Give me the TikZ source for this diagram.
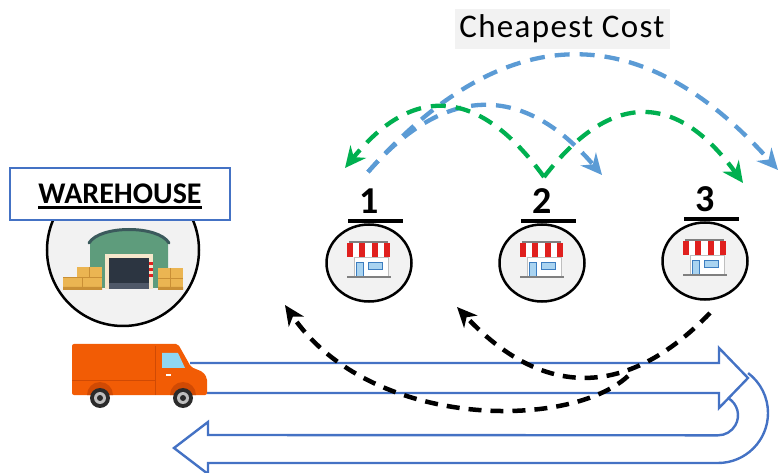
\documentclass[tikz,border=0pt]{standalone}
\usepackage{fontspec}
\setmainfont{Carlito}
\usetikzlibrary{arrows.meta,shapes.geometric}

\definecolor{arrowblue}{HTML}{4472C4}
\definecolor{costblue}{HTML}{5B9BD5}
\definecolor{costgreen}{HTML}{00B050}
\definecolor{panelgray}{HTML}{F2F2F2}
\definecolor{vanorange}{HTML}{F25C05}
\definecolor{vandark}{HTML}{D04A04}
\definecolor{vanglass}{HTML}{8FD6F2}
\definecolor{tyre}{HTML}{2B2B2B}
\definecolor{hub}{HTML}{BFBFBF}
\definecolor{domegreen}{HTML}{5E9C7C}
\definecolor{domedark}{HTML}{3B5A5C}
\definecolor{doorcream}{HTML}{F6E7CC}
\definecolor{doordark}{HTML}{2C3541}
\definecolor{doorgray}{HTML}{4F5868}
\definecolor{boxyellow}{HTML}{EBB552}
\definecolor{boxedge}{HTML}{C98F35}
\definecolor{awningred}{HTML}{E0201E}
\definecolor{doorblue}{HTML}{A9D3F0}
\definecolor{doorline}{HTML}{3C7DC0}

\tikzset{
  shopcircle/.style={ellipse, draw, line width=2.5pt, fill=panelgray,
    minimum width=85pt, minimum height=77pt},
  shopnum/.style={font=\fontsize{38}{38}\selectfont\bfseries, inner sep=0pt},
  numbar/.style={line width=4pt},
  blockarrow/.style={draw=arrowblue, line width=2.4pt},
  truckroute/.style={black, line width=4.5pt, dash pattern=on 13pt off 9pt,
    -{Stealth[length=20pt,width=18pt,inset=6pt]}},
  costroute/.style={line width=4.3pt, dash pattern=on 15pt off 10pt,
    -{Stealth[length=21pt,width=20pt,inset=7pt]}},
  pics/shop/.style={code={
    % awning
    \fill[white] (-22,-20) rectangle (21,-6);
    \foreach \k in {0,2,4,6}
      \fill[awningred] (-22+\k*6.14,-20) rectangle ++(6.14,14);
    \fill[gray] (-20,-22) rectangle (19,-20);
    % front
    \filldraw[fill=white, draw=gray!50, line width=0.5pt] (-15,-6) rectangle (19,14);
    \filldraw[fill=doorblue, draw=doorline, line width=0.8pt] (-13,-1) rectangle (-6,14);
    \filldraw[fill=doorblue, draw=doorline, line width=0.8pt] (-1,-1) rectangle (13,6);
    \draw[gray, line width=1.5pt] (-22,14) -- (22,14);
  }}
}

\begin{document}
\begin{tikzpicture}[x=1pt,y=-1pt]
\useasboundingbox (0,0) rectangle (780,473);

% outgoing and return block arrows
\draw[blockarrow] (190,363) -- (719,363) -- (719,348) -- (748,378) -- (719,408)
  -- (719,393) -- (207,393);
\draw[blockarrow] (728,398) arc[start angle=60, end angle=-90, radius=20pt]
  -- (208,435) -- (208,422) -- (174,448) -- (208,474) -- (208,463) -- (718,463)
  arc[start angle=-90, end angle=53, radius=50pt];

% van
\fill[vanorange, rounded corners=2pt] (72,344) -- (178,344) -- (191,367) -- (203,372)
  -- (207,378) -- (207,395) -- (72,395) -- cycle;
\draw[vandark, line width=0.8pt] (155,346) -- (155,395);
\draw[vandark, line width=0.8pt] (72,380) -- (155,380);
\fill[vanglass] (162,353) -- (178,353) -- (185,368) -- (162,368) -- cycle;
\fill[white] (166,374) rectangle (171,376);
\foreach \w in {100,183} {
  \fill[vandark] (\w-13,395) arc[start angle=180, end angle=0, radius=13pt] -- cycle;
  \fill[tyre] (\w,398) circle (10pt);
  \fill[hub] (\w,398) circle (6pt);
  \fill[tyre] (\w,398) circle (3pt);
}

% warehouse
\node[circle, draw, line width=2.5pt, fill=panelgray, minimum size=152pt] (whcircle) at (123,250) {};
\fill[domegreen] (90,288) -- (90,242) .. controls (100,226) and (158,226) .. (168,242) -- (168,288) -- cycle;
\draw[domedark, line width=3pt, line cap=round] (89,243) .. controls (100,225) and (158,225) .. (169,243);
\fill[doorcream] (105,254) rectangle (153,289);
\fill[doordark] (109,258) rectangle (149,283);
\fill[doorgray] (109,283) rectangle (149,289);
\foreach \s in {262,268,274}
  \fill[awningred] (149,\s) rectangle (153,\s+3);
\fill[boxyellow] (63,277) rectangle (102,289);
\fill[boxyellow] (77,267) rectangle (102,277);
\fill[boxyellow] (158,268) rectangle (183,289);
\draw[boxedge, line width=0.8pt] (82,277) -- (82,289) (63,277) -- (102,277) (89,267) -- (89,277)
  (158,278) -- (183,278) (170,268) -- (170,289);
\fill[boxedge] (63,287) rectangle (102,290) (158,287) rectangle (183,290);

\node[draw=arrowblue, line width=1.5pt, fill=white, minimum width=220pt, minimum height=52pt] (whbox) at (120,194) {};
\node[font=\fontsize{30}{36}\selectfont\bfseries, inner sep=0pt] (whtext) at (120,194) {WAREHOUSE};
\draw[line width=3pt] ([yshift=-4pt]whtext.base west) -- ([yshift=-4pt]whtext.base east);

% shops
\foreach \i/\x/\y in {1/369/263, 2/542/263, 3/705/261} {
  \node[shopcircle] (s\i) at (\x,\y) {};
  \pic at (s\i) {shop};
  \draw[numbar] (\x-21,\y-42) -- (\x+34,\y-42);
  \node[shopnum] (n\i) at (\x,\y-62) {\i};
}

% title
\node[fill=panelgray, minimum width=215pt, minimum height=40pt, inner sep=0pt,
  font=\fontsize{33}{40}\selectfont\addfontfeatures{LetterSpace=4}] (costtitle) at (562,29) {Cheapest Cost};

% route ends
\coordinate (r3) at (710,313);
\coordinate (rsplit) at (628,376);
\coordinate (r2) at (457,307);
\coordinate (r1) at (285,305);
\coordinate (c0) at (368,172);
\coordinate (c2) at (602,175);
\coordinate (c4) at (778,170);
\coordinate (g0) at (544,177);
\coordinate (g1) at (345,168);
\coordinate (g3) at (743,183);

% van routes
\draw[truckroute] (r3) .. controls (626,400) and (542,398) .. (r2);
\draw[truckroute] (rsplit) .. controls (570,430) and (370,430) .. (r1);

% cost arcs
\draw[costroute, costblue] (c0) .. controls (446,83) and (524,84) .. (c2);
\draw[costroute, costblue] (c0) .. controls (505,17) and (641,17) .. (c4);
\draw[costroute, costgreen] (g0) .. controls (479,87) and (413,84) .. (g1);
\draw[costroute, costgreen] (g0) .. controls (611,90) and (677,92) .. (g3);

\end{tikzpicture}
\end{document}
